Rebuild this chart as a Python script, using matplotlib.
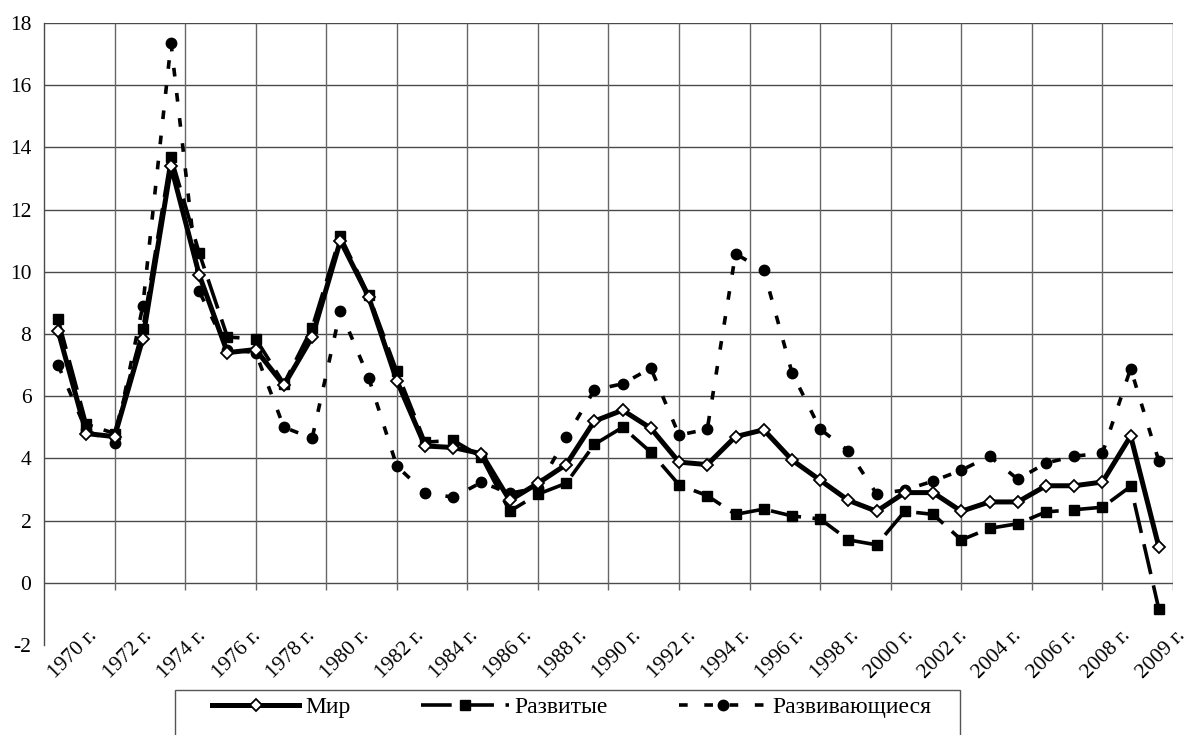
import numpy as np
import matplotlib
matplotlib.use("Agg")
import matplotlib.pyplot as plt
from matplotlib.patches import Rectangle

plt.rcParams['font.family'] = 'serif'
plt.rcParams['font.serif'] = ['Liberation Serif', 'DejaVu Serif']
plt.rcParams['axes.unicode_minus'] = False

# data (inflation, %)
years = list(range(1970, 2010))
mir = [8.1, 4.8, 4.7, 7.85, 13.4, 9.9, 7.4, 7.5, 6.35, 7.9,
       11.0, 9.2, 6.5, 4.4, 4.35, 4.15, 2.65, 3.2, 3.8, 5.2,
       5.55, 4.97, 3.88, 3.8, 4.7, 4.92, 3.95, 3.3, 2.65, 2.3,
       2.9, 2.9, 2.3, 2.6, 2.6, 3.12, 3.12, 3.24, 4.72, 1.15]
razv = [8.47, 5.1, 4.8, 8.15, 13.7, 10.6, 7.9, 7.85, 6.4, 8.2,
        11.15, 9.25, 6.8, 4.52, 4.58, 4.05, 2.3, 2.85, 3.2, 4.45,
        5.0, 4.2, 3.15, 2.8, 2.2, 2.37, 2.15, 2.05, 1.38, 1.22,
        2.3, 2.2, 1.38, 1.75, 1.9, 2.28, 2.35, 2.43, 3.1, -0.85]
razvivayushchiesya = [7.0, 4.9, 4.5, 8.9, 17.35, 9.37, 7.5, 7.4, 5.0, 4.65,
                      8.75, 6.6, 3.75, 2.9, 2.75, 3.23, 2.88, 3.05, 4.68, 6.2,
                      6.4, 6.9, 4.75, 4.94, 10.58, 10.05, 6.76, 4.94, 4.24, 2.86,
                      2.98, 3.27, 3.62, 4.07, 3.33, 3.85, 4.07, 4.17, 6.89, 3.91]
tick_labels = [f"{y} г." for y in range(1970, 2009, 2)] + ["2009 г."]
series_names = ["Мир", "Развитые", "Развивающиеся"]

fig = plt.figure(figsize=(11.93, 7.35), dpi=100)
ax = fig.add_axes([0.03688, 0.12245, 0.94635, 0.84626])

x = np.arange(len(years))
ax.set_xlim(-0.5, len(years) - 0.5)
ax.set_ylim(-2, 18)

# grid
grid_c = '#4a4a4a'
for yv in range(0, 19, 2):
    ax.axhline(yv, color=grid_c, lw=1.0, zorder=1)
xg = np.linspace(-0.5, len(years) - 0.5, 17)
ax.vlines(xg[1:], -0.22, 18, color='#666666', lw=1.0, zorder=1)

for s in ['top', 'right', 'bottom']:
    ax.spines[s].set_visible(False)
ax.spines['left'].set_color(grid_c)
ax.spines['left'].set_linewidth(1.0)

ax.set_yticks(range(-2, 19, 2))
ax.tick_params(axis='y', length=0, pad=9, labelsize=15.5)
ax.set_xticks([])

# x labels
lab_pos = np.linspace(0.045, 1.008, len(tick_labels))
for px, lab in zip(lab_pos, tick_labels):
    ax.text(px, 0.019, lab, transform=ax.transAxes, rotation=45,
            rotation_mode='anchor', ha='right', va='center', fontsize=15.5)

l3, = ax.plot(x, razvivayushchiesya, color='black', lw=2.6,
              linestyle=(0, (2.4, 4.6)), marker='o', markersize=7.5,
              markerfacecolor='black', markeredgecolor='black', zorder=3)
l2, = ax.plot(x, razv, color='black', lw=2.6,
              linestyle=(0, (8.5, 3.2)), marker='s', markersize=7,
              markerfacecolor='black', markeredgecolor='black', zorder=4)
l1, = ax.plot(x, mir, color='black', lw=3.6, linestyle='-',
              marker='D', markersize=6.5, markerfacecolor='white',
              markeredgecolor='black', markeredgewidth=1.3, zorder=5)

# legend
fig.patches.append(Rectangle((175 / 1193, -0.05), (960 - 175) / 1193, 0.05 + 1 - 690 / 735,
                             transform=fig.transFigure, fill=False,
                             edgecolor='#555555', lw=1.0))
fig.legend([l1, l2, l3], series_names, loc='center left',
           bbox_to_anchor=(212 / 1193, 1 - 707 / 735), ncol=3, frameon=False,
           fontsize=17, handlelength=3.7, handletextpad=0.25,
           columnspacing=3.0, borderpad=0, borderaxespad=0)

fig.savefig("out.png", dpi=100)
